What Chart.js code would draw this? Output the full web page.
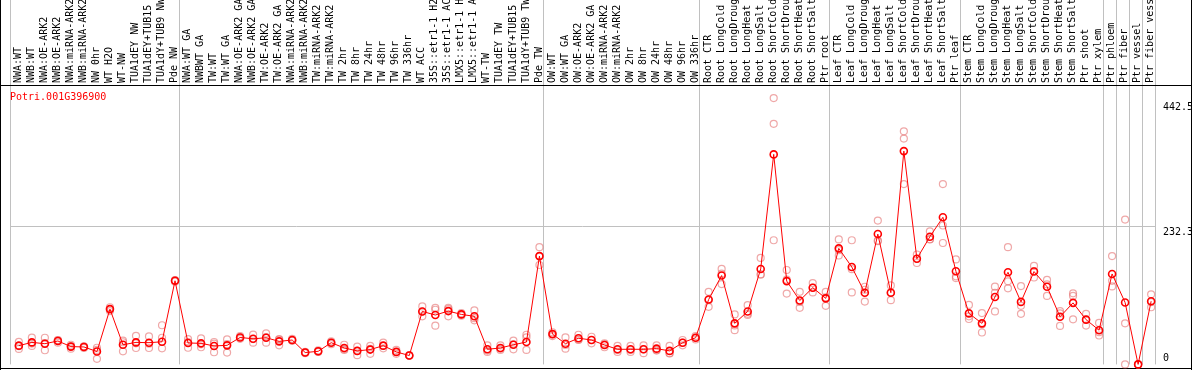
<!DOCTYPE html>
<html>
<head>
<meta charset="utf-8">
<title>Potri.001G396900</title>
<script src="https://cdn.jsdelivr.net/npm/chart.js@4.4.0/dist/chart.umd.min.js"></script>
<style>
    html, body { margin: 0; padding: 0; background: #fff; }
    #wrap { width: 1194px; height: 370px; }
</style>
</head>
<body>
<div id="wrap"><canvas id="myChart" width="1194" height="370"></canvas></div>
<script>
let gene = "Potri.001G396900"

let amostras = [
    "NWA:WT", "NWB:WT", "NWA:OE-ARK2", "NWB:OE-ARK2", "NWA:miRNA-ARK2", "NWB:miRNA-ARK2", "NW 0hr", "WT H2O", "WT-NW", "TUA1dEY NW", "TUA1dEY+TUB15 NW", "TUA1dY+TUB9 NW", "Pde NW",
    "NWA:WT GA", "NWBWT GA", "TW:WT", "TW:WT GA", "NWA:OE-ARK2 GA", "NWB:OE-ARK2 GA", "TW:OE-ARK2", "TW:OE-ARK2 GA", "NWA:miRNA-ARK2 GA", "NWB:miRNA-ARK2 GA", "TW:miRNA-ARK2", "TW:miRNA-ARK2 GA",
    "TW 2hr", "TW 8hr", "TW 24hr", "TW 48hr", "TW 96hr", "TW 336hr", "WT ACC", "35S::etr1-1 H2O", "35S::etr1-1 ACC", "LMX5::etr1-1 H2O", "LMX5::etr1-1 ACC", "WT-TW", "TUA1dEY TW", "TUA1dEY+TUB15 TW", "TUA1dY+TUB9 TW", "Pde TW",
    "OW:WT", "OW:WT GA", "OW:OE-ARK2", "OW:OE-ARK2 GA", "OW:miRNA-ARK2", "OW:miRNA-ARK2 GA", "OW 2hr", "OW 8hr", "OW 24hr", "OW 48hr", "OW 96hr", "OW 336hr",
    "Root CTR", "Root LongCold", "Root LongDrought", "Root LongHeat", "Root LongSalt", "Root ShortCold", "Root ShortDrought", "Root ShortHeat", "Root ShortSalt", "Ptr root",
    "Leaf CTR", "Leaf LongCold", "Leaf LongDrought", "Leaf LongHeat", "Leaf LongSalt", "Leaf ShortCold", "Leaf ShortDrought", "Leaf ShortHeat", "Leaf ShortSalt", "Ptr leaf",
    "Stem CTR", "Stem LongCold", "Stem LongDrought", "Stem LongHeat", "Stem LongSalt", "Stem ShortCold", "Stem ShortDrought", "Stem ShortHeat", "Stem ShortSalt", "Ptr shoot", "Ptr xylem",
    "Ptr phloem", "Ptr fiber", "Ptr vessel", "Ptr fiber vessel"
]

// quantas amostras em cada bloco (separados por linhas cinzas)
let grupos = [13, 28, 12, 10, 10, 11, 1, 1, 1, 1]

let medias = [
    31.5, 37, 34.8, 39.3, 29.9, 29.3, 21.6, 92.9, 33, 37, 36.5, 38, 140.5,
    36, 35.4, 31, 32, 45.3, 43, 44.8, 38.7, 41, 19.9, 22, 36.5, 27.6, 22.7, 24.9, 31.5, 21, 14.9, 89, 83, 89.6, 84, 80.8, 25.4, 27.6, 33, 37.6, 182,
    50.9, 34.8, 44, 41, 32.6, 25.4, 25.4, 25.4, 26.5, 22.7, 36.5, 44.8,
    109, 149.3, 69, 89, 160.4, 352.9, 140, 107.3, 128.9, 111,
    195, 163.7, 120.5, 219, 120.5, 358.4, 177.5, 214.6, 247.2, 156.5,
    85.7, 69, 113.3, 154.8, 105, 156, 130.6, 80, 103.4, 75.2, 57.5,
    152, 104, 0, 106.2
]

let rep1 = [
    38, 45, 44.8, 41, 33, 30.4, 28, 96, 39.8, 48, 47, 65.8, 141.6,
    42.6, 43.7, 37.6, 42, 47.6, 50, 52, 41.5, 43, 21, 23.5, 38.7, 33, 29.9, 31, 36.5, 24.3, 15.5, 97.4, 95, 95, 86, 90.7, 32, 32, 39.8, 49.8, 197,
    54, 45.3, 49.8, 46.5, 35.4, 31, 31, 32, 32, 31, 41, 47.6,
    122, 160.4, 84, 99.5, 179, 447.5, 158.6, 122, 136.6, 122,
    210, 208.6, 130.5, 241.7, 132.7, 391.6, 184.7, 223.5, 303, 176.4,
    100, 86.3, 130.6, 197, 131.6, 165.4, 142.2, 89.6, 119.5, 85, 69.7,
    182, 243.4, 0, 117.8
]

let rep2 = [
    26, 31, 23.8, 36.5, 26.5, 27.6, 9.4, 89.6, 22, 27.6, 27.6, 27, 139,
    28, 28.8, 20.4, 19.9, 43, 36.5, 36.5, 32, 39.8, 18.8, 21, 34, 24.3, 15.5, 17.7, 27, 17.7, 14.5, 80.8, 65, 80.8, 81.8, 74, 23.2, 24.3, 25.4, 24.3, 167,
    47.6, 26.5, 41, 35.4, 28.8, 21, 21, 18.8, 24.3, 18.8, 32, 42,
    96.8, 135, 57.5, 85, 151.5, 208.6, 119, 95, 121, 98.5,
    183, 121, 105.6, 207, 108, 303, 170.4, 210, 204, 145,
    76.3, 53.6, 89, 127.8, 85, 146, 115, 64.7, 75.8, 65.2, 48.6,
    131, 69, 0, 96
]

let rep3 = [
    30.5, 35, 35.8, 40.4, 30.2, 29.9, 24.3, 93.1, 37.2, 35.4, 34.9, 44.8, 141,
    37.4, 33.7, 35, 34, 45.3, 42.5, 46, 42.6, 40.2, 19.9, 21.5, 36.8, 25.5, 22.7, 26, 31, 21, 14.7, 88.8, 91.8, 93, 84.2, 77.7, 21, 26.5, 33.8, 45.3, 182,
    51, 32.6, 41.8, 41, 33.6, 24.2, 24.2, 25.4, 23.2, 18.3, 36.5, 44.8,
    108, 152.5, 65.5, 83, 150.7, 404.3, 142.4, 105, 129, 112.5,
    192, 160, 125.4, 208, 121, 379.4, 177.5, 210.3, 233.4, 148,
    80.8, 67, 120.3, 139.6, 98.4, 156.6, 134.6, 85.7, 115, 75.4, 54.2,
    140.5, 0, 0, 104.8
]

let ticksY = [0, 232.3, 442.5]
let maxY = 469.5

let corMedia = "#ff0000"
let corRep = "rgba(228, 110, 110, 0.6)"
let fonte = "10px 'DejaVu Sans Mono', monospace"

// deslocamento do ponto dentro da coluna
let desloc = 0.68

function pontos(arr) {
    return arr.map(function (v, i) { return { x: i + desloc, y: v } })
}

let replicas = pontos(rep1).concat(pontos(rep2), pontos(rep3))

const moldura = {
    id: "moldura",
    beforeDatasetsDraw(chart) {
        const c = chart.ctx
        const xs = chart.scales.x
        const ys = chart.scales.y
        const area = chart.chartArea
        c.save()

        // separadores dos grupos
        c.strokeStyle = "#c0c0c0"
        c.lineWidth = 1
        let limites = [0]
        let soma = 0
        grupos.forEach(function (g) { soma += g; limites.push(soma) })
        limites.forEach(function (b) {
            let x = Math.floor(xs.getPixelForValue(b)) + 0.5
            c.beginPath()
            c.moveTo(x, 0)
            c.lineTo(x, area.bottom)
            c.stroke()
        })

        // linha de grade do meio
        let yg = Math.floor(ys.getPixelForValue(ticksY[1])) + 0.5
        c.beginPath()
        c.moveTo(area.left, yg)
        c.lineTo(area.right, yg)
        c.stroke()

        // bordas pretas
        c.strokeStyle = "#000"
        c.beginPath()
        c.moveTo(0, 85.5)
        c.lineTo(1192, 85.5)
        c.moveTo(0, 368.5)
        c.lineTo(1192, 368.5)
        c.moveTo(0.5, 0)
        c.lineTo(0.5, 370)
        c.moveTo(1191.5, 0)
        c.lineTo(1191.5, 370)
        c.stroke()

        // nomes das amostras (verticais)
        c.fillStyle = "#000"
        c.font = fonte
        c.beginPath()
        c.rect(1, 0, 1190, 85)
        c.clip()
        amostras.forEach(function (nome, i) {
            let x = xs.getPixelForValue(i + desloc) - 0.5
            c.save()
            c.translate(x, 83)
            c.rotate(-Math.PI / 2)
            c.textAlign = "left"
            c.textBaseline = "middle"
            c.fillText(nome, 0, 0)
            c.restore()
        })
        c.restore()

        // valores do eixo à direita
        c.save()
        c.font = fonte
        c.fillStyle = "#000"
        c.textAlign = "left"
        c.textBaseline = "middle"
        c.beginPath()
        c.rect(0, 86, 1191, 282)
        c.clip()
        ticksY.forEach(function (t) {
            let y = ys.getPixelForValue(t)
            let dy = t == 0 ? -6 : 6
            c.fillText(String(t), 1163, y + dy)
        })

        // nome do gene
        c.fillStyle = corMedia
        c.textBaseline = "alphabetic"
        c.fillText(gene, 10, 100)
        c.restore()
    },
}

const ctx = document.getElementById("myChart").getContext("2d")
let myChart = new Chart(ctx, {
    type: "line",
    data: {
        datasets: [
            {
                label: "media",
                data: pontos(medias),
                borderColor: corMedia,
                borderWidth: 1,
                pointRadius: 3.5,
                pointBorderWidth: 1.6,
                pointBorderColor: corMedia,
                pointBackgroundColor: "rgba(0,0,0,0)",
                tension: 0,
                clip: false,
                order: 0,
            },
            {
                label: "replicas",
                data: replicas,
                showLine: false,
                pointRadius: 3.5,
                pointBorderWidth: 1.2,
                pointBorderColor: corRep,
                pointBackgroundColor: "rgba(0,0,0,0)",
                clip: false,
                order: 1,
            },
        ],
    },
    options: {
        responsive: false,
        animation: false,
        layout: {
            padding: { left: 10, right: 38.7, top: 85, bottom: 2 },
        },
        plugins: {
            legend: { display: false },
            tooltip: { enabled: false },
        },
        scales: {
            x: { type: "linear", min: 0, max: 88, display: false },
            y: { min: 0, max: maxY, display: false },
        },
    },
    plugins: [moldura],
})
</script>
</body>
</html>
